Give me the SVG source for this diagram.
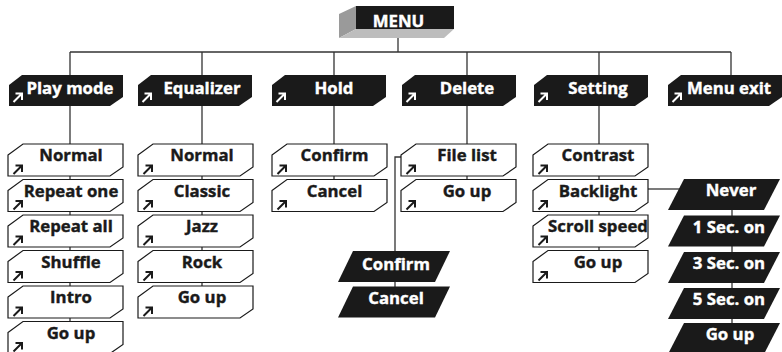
<svg xmlns="http://www.w3.org/2000/svg" xmlns:xlink="http://www.w3.org/1999/xlink" width="782" height="352" viewBox="0 0 782 352">
<style>
.hdr{fill:#1a1a1a}
.item{fill:#fff;stroke:#1a1a1a;stroke-width:1.2}
.blk{fill:#1a1a1a}
.t{font-family:"Open Sans","DejaVu Sans",sans-serif;font-weight:700;font-size:16.8px;text-anchor:middle;stroke-width:0.4}
.tw{fill:#fff;stroke:#fff}
.tb{fill:#1a1a1a;stroke:#1a1a1a}
.conn{stroke:#333;stroke-width:1.3;fill:none}
.aw{stroke:#fff;stroke-width:2;fill:none}
.ab{stroke:#1a1a1a;stroke-width:2;fill:none}
</style>
<defs>
<path id="hdr" d="M0,10 L13,0 H114 V22 L101,31 H0 Z"/>
<path id="item" d="M0,11 L15,0 H115 V23 L102,32 H0 Z"/>
<path id="para" d="M15,0 H112 L97,31 H0 Z"/>
<path id="para2" d="M16,0 H112 L96,31 H0 Z"/>
<path id="arw" d="M0.5,10 L8.5,2 M2.5,1.5 H9 V8"/>
</defs>
<g id="connectors" class="conn">
<path d="M398,29 V52"/>
<path d="M70,52 H731"/>
<path d="M70,52 V75 M202,52 V75 M334,52 V75 M467,52 V75 M599,52 V75 M731,52 V75"/>
<path d="M70,106 V337"/>
<path d="M202,106 V302"/>
<path d="M334,106 V195"/>
<path d="M467,106 V195"/>
<path d="M599,106 V266"/>
<path d="M401,157 H395 V300"/>
<path d="M648,189 H680"/>
<path d="M732,195 V338"/>
</g>
<g id="menu">
<polygon points="356,6 339,14 339,38 356,29" fill="#9a9a9a"/>
<polygon points="356,29 339,38 444,38 454,29" fill="#bdbdbd"/>
<rect x="356" y="6" width="98" height="23" fill="#1a1a1a"/>
<text class="t tw" x="398.5" y="27">MENU</text>
</g>
<g id="play-mode">
<use xlink:href="#hdr" class="hdr" x="9" y="75"/>
<use xlink:href="#arw" class="aw" x="13" y="92"/>
<text class="t tw" x="70" y="94">Play mode</text>
</g>
<g id="equalizer">
<use xlink:href="#hdr" class="hdr" x="138" y="75"/>
<use xlink:href="#arw" class="aw" x="142" y="92"/>
<text class="t tw" x="202" y="94">Equalizer</text>
</g>
<g id="hold">
<use xlink:href="#hdr" class="hdr" x="272" y="75"/>
<use xlink:href="#arw" class="aw" x="276" y="92"/>
<text class="t tw" x="334" y="94">Hold</text>
</g>
<g id="delete">
<use xlink:href="#hdr" class="hdr" x="402" y="75"/>
<use xlink:href="#arw" class="aw" x="406" y="92"/>
<text class="t tw" x="467" y="94">Delete</text>
</g>
<g id="setting">
<use xlink:href="#hdr" class="hdr" x="534" y="75"/>
<use xlink:href="#arw" class="aw" x="538" y="92"/>
<text class="t tw" x="598" y="94">Setting</text>
</g>
<g id="menu-exit">
<use xlink:href="#hdr" class="hdr" x="668" y="75"/>
<use xlink:href="#arw" class="aw" x="672" y="92"/>
<text class="t tw" x="729" y="94">Menu exit</text>
</g>
<g id="pm-normal"><use xlink:href="#item" class="item" x="8" y="144"/><use xlink:href="#arw" class="ab" x="13" y="164"/><text class="t tb" x="71" y="161">Normal</text></g>
<g id="pm-repeat-one"><use xlink:href="#item" class="item" x="8" y="179.5"/><use xlink:href="#arw" class="ab" x="13" y="199.5"/><text class="t tb" x="71" y="196.5">Repeat one</text></g>
<g id="pm-repeat-all"><use xlink:href="#item" class="item" x="8" y="215"/><use xlink:href="#arw" class="ab" x="13" y="235"/><text class="t tb" x="71" y="232">Repeat all</text></g>
<g id="pm-shuffle"><use xlink:href="#item" class="item" x="8" y="250.5"/><use xlink:href="#arw" class="ab" x="13" y="270.5"/><text class="t tb" x="71" y="267.5">Shuffle</text></g>
<g id="pm-intro"><use xlink:href="#item" class="item" x="8" y="286"/><use xlink:href="#arw" class="ab" x="13" y="306"/><text class="t tb" x="71" y="303">Intro</text></g>
<g id="pm-go-up"><use xlink:href="#item" class="item" x="8" y="321.5"/><use xlink:href="#arw" class="ab" x="13" y="341.5"/><text class="t tb" x="71" y="338.5">Go up</text></g>
<g id="eq-normal"><use xlink:href="#item" class="item" x="138" y="144"/><use xlink:href="#arw" class="ab" x="143" y="164"/><text class="t tb" x="202" y="161">Normal</text></g>
<g id="eq-classic"><use xlink:href="#item" class="item" x="138" y="179.5"/><use xlink:href="#arw" class="ab" x="143" y="199.5"/><text class="t tb" x="202" y="196.5">Classic</text></g>
<g id="eq-jazz"><use xlink:href="#item" class="item" x="138" y="215"/><use xlink:href="#arw" class="ab" x="143" y="235"/><text class="t tb" x="202" y="232">Jazz</text></g>
<g id="eq-rock"><use xlink:href="#item" class="item" x="138" y="250.5"/><use xlink:href="#arw" class="ab" x="143" y="270.5"/><text class="t tb" x="202" y="267.5">Rock</text></g>
<g id="eq-go-up"><use xlink:href="#item" class="item" x="138" y="286"/><use xlink:href="#arw" class="ab" x="143" y="306"/><text class="t tb" x="202" y="303">Go up</text></g>
<g id="hold-confirm"><use xlink:href="#item" class="item" x="272" y="144"/><use xlink:href="#arw" class="ab" x="277" y="164"/><text class="t tb" x="334.5" y="161">Confirm</text></g>
<g id="hold-cancel"><use xlink:href="#item" class="item" x="272" y="179.5"/><use xlink:href="#arw" class="ab" x="277" y="199.5"/><text class="t tb" x="334.5" y="196.5">Cancel</text></g>
<g id="del-file-list"><use xlink:href="#item" class="item" x="401" y="144"/><use xlink:href="#arw" class="ab" x="406" y="164"/><text class="t tb" x="467" y="161">File list</text></g>
<g id="del-go-up"><use xlink:href="#item" class="item" x="401" y="179.5"/><use xlink:href="#arw" class="ab" x="406" y="199.5"/><text class="t tb" x="467" y="196.5">Go up</text></g>
<g id="set-contrast"><use xlink:href="#item" class="item" x="533" y="144"/><use xlink:href="#arw" class="ab" x="538" y="164"/><text class="t tb" x="598" y="161">Contrast</text></g>
<g id="set-backlight"><use xlink:href="#item" class="item" x="533" y="179.5"/><use xlink:href="#arw" class="ab" x="538" y="199.5"/><text class="t tb" x="598" y="196.5">Backlight</text></g>
<g id="set-scroll-speed"><use xlink:href="#item" class="item" x="533" y="215"/><use xlink:href="#arw" class="ab" x="538" y="235"/><text class="t tb" x="598" y="232">Scroll speed</text></g>
<g id="set-go-up"><use xlink:href="#item" class="item" x="533" y="250.5"/><use xlink:href="#arw" class="ab" x="538" y="270.5"/><text class="t tb" x="598" y="267.5">Go up</text></g>
<g id="fl-confirm"><use xlink:href="#para" class="blk" x="338" y="251"/><text class="t tw" x="396" y="269.5">Confirm</text></g>
<g id="fl-cancel"><use xlink:href="#para" class="blk" x="338" y="286.5"/><text class="t tw" x="396" y="304">Cancel</text></g>
<g id="bl-never"><use xlink:href="#para2" class="blk" x="668" y="179"/><text class="t tw" x="731" y="196">Never</text></g>
<g id="bl-1sec"><use xlink:href="#para2" class="blk" x="668" y="215.5"/><text class="t tw" x="729" y="232.5">1 Sec. on</text></g>
<g id="bl-3sec"><use xlink:href="#para2" class="blk" x="668" y="252"/><text class="t tw" x="729" y="269">3 Sec. on</text></g>
<g id="bl-5sec"><use xlink:href="#para2" class="blk" x="668" y="288"/><text class="t tw" x="729" y="305">5 Sec. on</text></g>
<g id="bl-go-up"><use xlink:href="#para2" class="blk" x="668" y="323"/><text class="t tw" x="730" y="340">Go up</text></g>
</svg>
